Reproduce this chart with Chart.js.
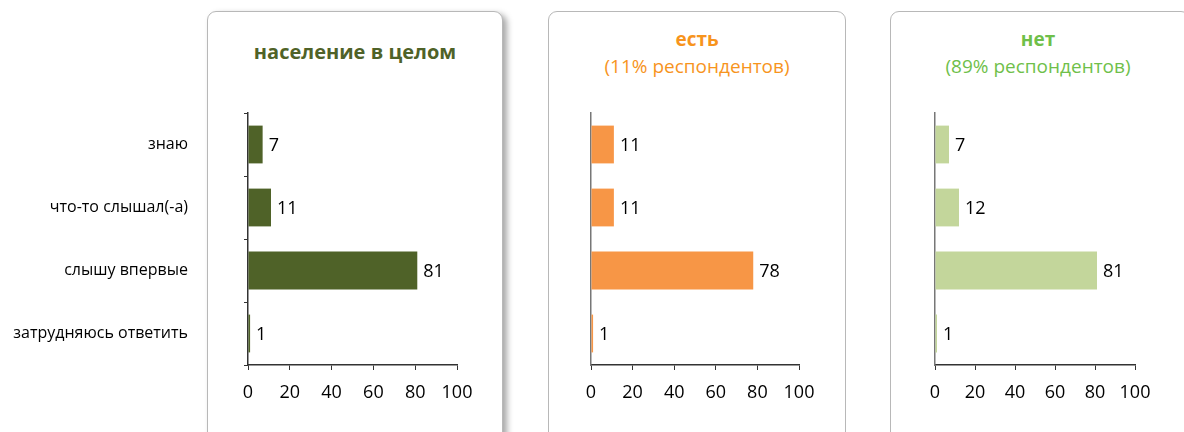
<!DOCTYPE html>
<html>
<head>
<meta charset="utf-8">
<script src="https://cdn.jsdelivr.net/npm/chart.js@4/dist/chart.umd.min.js"></script>
<style>
  body { margin: 0; width: 1184px; height: 432px; overflow: hidden; background: #fff; font-family: "Open Sans", sans-serif; position: relative; }
  .panel { position: absolute; top: 11px; height: 460px; background: #fff; border: 1px solid #b8b8b8; border-radius: 9px; box-sizing: border-box; }
  #p1 { left: 207px; width: 296px; box-shadow: 4px 3px 6px rgba(0,0,0,0.35); }
  #p2 { left: 548px; width: 298px; }
  #p3 { left: 890px; width: 300px; }
  .title { position: absolute; text-align: center; line-height: 27px; font-size: 19px; }
  .title b { font-weight: 700; }
  canvas { position: absolute; top: 100px; }
</style>
</head>
<body>
<div class="panel" id="p1"></div>
<div class="panel" id="p2"></div>
<div class="panel" id="p3"></div>

<div class="title" style="left:207px;width:296px;top:38px;color:#4f6228;font-size:20px;"><b>население в целом</b></div>
<div class="title" style="left:548px;width:298px;top:26px;color:#f7941d;"><b>есть</b><br>(11% респондентов)</div>
<div class="title" style="left:890px;width:296px;top:26px;color:#6fbf4a;"><b>нет</b><br>(89% респондентов)</div>

<canvas id="c1" width="500" height="332" style="left:0px;"></canvas>
<canvas id="c2" width="294" height="332" style="left:550px;"></canvas>
<canvas id="c3" width="290" height="332" style="left:892px;"></canvas>

<script>
// категории и значения (%)
const categories = ["знаю", "что-то слышал(-а)", "слышу впервые", "затрудняюсь ответить"];
const totalValues = [7, 11, 81, 1];
const yesValues = [11, 11, 78, 1];
const noValues = [7, 12, 81, 1];
const xTicks = [0, 20, 40, 60, 80, 100];

// подписи значений справа от столбиков
const valueLabels = {
    id: "valueLabels",
    afterDatasetsDraw(chart) {
        const c = chart.ctx;
        const meta = chart.getDatasetMeta(0);
        c.save();
        c.font = "18px 'Open Sans'";
        c.fillStyle = "#000";
        c.textBaseline = "middle";
        meta.data.forEach((bar, i) => {
            c.fillText(chart.data.datasets[0].data[i], bar.x + 6, bar.y + 1);
        });
        c.restore();
    }
};

const makeChart = (id, values, color, showLabels, yWidth, rightPad) => {
    return new Chart(document.getElementById(id), {
        type: "bar",
        data: {
            labels: categories,
            datasets: [{
                data: values,
                backgroundColor: color,
                barPercentage: 0.6,
                categoryPercentage: 1
            }]
        },
        options: {
            indexAxis: "y",
            responsive: false,
            animation: false,
            layout: { padding: { top: 13, right: rightPad } },
            plugins: { legend: { display: false }, tooltip: { enabled: false } },
            scales: {
                x: {
                    min: 0,
                    max: 100,
                    afterBuildTicks: (scale) => { scale.ticks = xTicks.map(v => ({ value: v })); },
                    grid: { drawOnChartArea: false, drawTicks: true, tickLength: 5, color: "#333" },
                    border: { color: "#333", width: 1.5 },
                    ticks: { color: "#000", font: { size: 18, family: "Open Sans" }, padding: 12 },
                    afterFit: (scale) => { scale.height = 67; }
                },
                y: {
                    grid: { drawOnChartArea: false, drawTicks: showLabels, tickLength: 4, offset: true, color: "#333" },
                    border: { color: showLabels ? "#333" : "#777", width: 1.5 },
                    ticks: { display: showLabels, color: "#000", font: { size: 16, family: "Open Sans" }, padding: 56 },
                    afterFit: (scale) => {
                        scale.width = yWidth;
                        scale.paddingTop = 0;
                        scale.paddingBottom = 0;
                    }
                }
            }
        },
        plugins: [valueLabels]
    });
};

makeChart("c1", totalValues, "#4f6228", true, 248, 43);
makeChart("c2", yesValues, "#f79646", false, 41, 45);
makeChart("c3", noValues, "#c3d69b", false, 43, 47);
</script>
</body>
</html>
